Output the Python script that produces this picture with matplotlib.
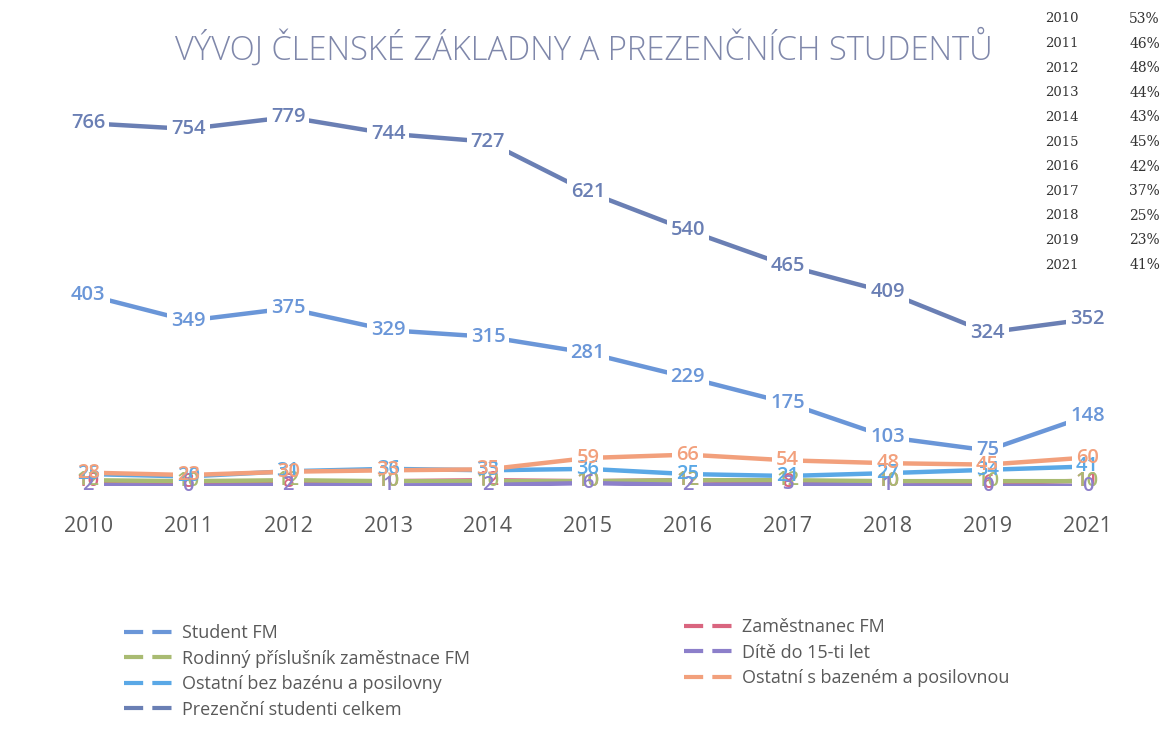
import matplotlib
matplotlib.use("Agg")
import matplotlib.pyplot as plt
from matplotlib.lines import Line2D

plt.rcParams['font.family'] = ['Open Sans', 'DejaVu Sans']

years = ['2010', '2011', '2012', '2013', '2014', '2015', '2016', '2017', '2018', '2019', '2021']
student_fm = [403, 349, 375, 329, 315, 281, 229, 175, 103, 75, 148]
zamestnanec_fm = [10, 8, 8, 10, 12, 10, 12, 8, 10, 6, 11]
rodinny = [12, 10, 12, 10, 10, 10, 12, 12, 10, 10, 10]
dite = [2, 0, 2, 1, 2, 6, 2, 3, 1, 0, 0]
ostatni_bez = [25, 20, 31, 36, 33, 36, 25, 21, 27, 34, 41]
ostatni_s = [28, 23, 30, 33, 35, 59, 66, 54, 48, 45, 60]
prezencni = [766, 754, 779, 744, 727, 621, 540, 465, 409, 324, 352]
pct_table = ['53%', '46%', '48%', '44%', '43%', '45%', '42%', '37%', '25%', '23%', '41%']

series = [
    ('Student FM', student_fm, '#6a96d8'),
    ('Zaměstnanec FM', zamestnanec_fm, '#d9657f'),
    ('Rodinný příslušník zaměstnace FM', rodinny, '#a9bb72'),
    ('Dítě do 15-ti let', dite, '#8c7fca'),
    ('Ostatní bez bazénu a posilovny', ostatni_bez, '#5aa8e6'),
    ('Ostatní s bazeném a posilovnou', ostatni_s, '#f2a07c'),
    ('Prezenční studenti celkem', prezencni, '#6a7fb4'),
]

fig = plt.figure(figsize=(11.63, 7.34), dpi=100)
ax = fig.add_axes([0.033, 0.338, 0.945, 0.516])
x = list(range(len(years)))
handles = {}
for name, vals, col in series:
    ax.plot(x, vals, color=col, lw=3.2, solid_capstyle='butt', zorder=1)
    handles[name] = col
# white boxes behind labels (break the lines)
for name, vals, col in series:
    for xi, v in zip(x, vals):
        ax.text(xi, v, str(v), ha='center', va='center', fontsize=14.5,
                color='white', fontweight='semibold', zorder=2,
                bbox=dict(boxstyle='square,pad=0.2', fc='white', ec='none'))
for name, vals, col in series:
    for xi, v in zip(x, vals):
        ax.text(xi, v, str(v), ha='center', va='center', fontsize=14.5,
                color=col, fontweight='semibold', zorder=3)

ax.set_xlim(-0.5, len(years) - 0.5)
ax.set_ylim(0, 800)
ax.set_xticks(x)
ax.set_xticklabels(years, fontsize=15.5, color='#595959')
ax.tick_params(axis='x', length=0, pad=22)
ax.set_yticks([])
for s in ax.spines.values():
    s.set_visible(False)

fig.text(0.502, 0.934, 'VÝVOJ ČLENSKÉ ZÁKLADNY A PREZENČNÍCH STUDENTŮ',
         ha='center', va='center', fontsize=23.6, color='#7f87aa', fontweight='light')

# side table
for i, (yr, p) in enumerate(zip(years, pct_table)):
    yy = 1 - (19 + i * 24.6) / 734
    fig.text(1062 / 1163, yy, yr, ha='center', va='center', fontsize=9.5,
             color='#333333', family='DejaVu Serif')
    fig.text(1160 / 1163, yy, p, ha='right', va='center', fontsize=10,
             color='#333333', family='DejaVu Serif')

def mk(col):
    return Line2D([0], [0], color=col, lw=3, linestyle=(0, (4.6, 2.2)))

col1 = ['Student FM', 'Rodinný příslušník zaměstnace FM', 'Ostatní bez bazénu a posilovny', 'Prezenční studenti celkem']
col2 = ['Zaměstnanec FM', 'Dítě do 15-ti let', 'Ostatní s bazeném a posilovnou']
for names, xpos, ytop in [(col1, 124, 624), (col2, 684, 618)]:
    leg = fig.legend([mk(handles[n]) for n in names], names,
                     loc='upper left', bbox_to_anchor=(xpos / 1163, 1 - ytop / 734),
                     frameon=False, fontsize=13, handlelength=3.0, handletextpad=0.2,
                     labelspacing=0.42, borderaxespad=0, borderpad=0)
    for t in leg.get_texts():
        t.set_color('#595959')

fig.savefig('out.png', dpi=100, facecolor='white')
